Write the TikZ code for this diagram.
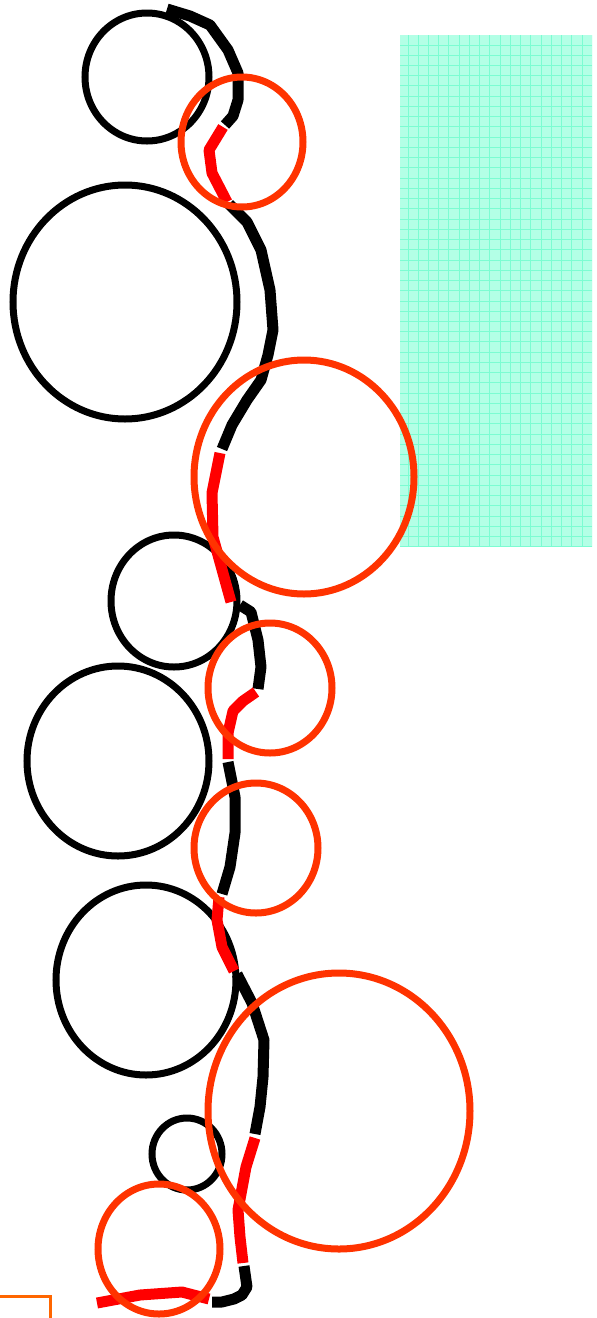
\documentclass[tikz,border=0pt]{standalone}
\usetikzlibrary{calc}
\definecolor{ring}{HTML}{FF3300}
\definecolor{redpath}{HTML}{FF0000}
\definecolor{bracket}{HTML}{FF6600}
\definecolor{mintfill}{HTML}{B3FFE6}
\definecolor{mintgrid}{HTML}{7CFCD2}
\tikzset{
  blackring/.style={draw=black,line width=7pt},
  redring/.style={draw=ring,line width=7pt},
  blackseg/.style={draw=black,line width=11pt,line join=round},
  redseg/.style={draw=redpath,line width=11pt,line join=round},
}
\begin{document}
\begin{tikzpicture}[x=1pt,y=-1pt]
\useasboundingbox (0,0) rectangle (597,1318);
% mint grid panel
\fill[mintfill] (400,35) rectangle (592,547);
\begin{scope}
\clip (400,35) rectangle (592,547);
\foreach \i in {0,...,19} {\draw[mintgrid,line width=1pt] ({400+8+10.24*\i},35) -- ++(0,512);}
\foreach \j in {0,...,50} {\draw[mintgrid,line width=1pt] (400,{35+10+10.24*\j}) -- ++(192,0);}
\end{scope}
% black circles
\draw[blackring] (147,77) ellipse [x radius=62pt, y radius=64pt];
\draw[blackring] (125,302) ellipse [x radius=112pt, y radius=117pt];
\draw[blackring] (174,601) ellipse [x radius=63pt, y radius=66pt];
\draw[blackring] (118,761) ellipse [x radius=91pt, y radius=95pt];
\draw[blackring] (146,980) ellipse [x radius=90pt, y radius=95pt];
\draw[blackring] (187,1154) ellipse [x radius=35pt, y radius=36pt];
% path segments
\draw[blackseg] (167,9) -- (190,16) -- (210,25) -- (228,50) -- (238,73) -- (238,100) -- (233,116) -- (225,125);
\draw[redseg] (223,127) -- (209,150) -- (212,173) -- (227,202);
\draw[blackseg] (229,204) -- (247,222) -- (261,250) -- (270,290) -- (273,330) -- (268,355) -- (261,380) -- (247,400) -- (232,425) -- (222,449);
\draw[redseg] (220,453) -- (212,493) -- (213,537) -- (231,602);
\draw[blackseg] (240,605) -- (251,612) -- (258,640) -- (261,667) -- (258,689);
\draw[redseg] (256,692) -- (243,701) -- (233,711) -- (228,733) -- (228,759);
\draw[blackseg] (228,762) -- (235,797) -- (235,833) -- (230,867) -- (222,894);
\draw[redseg] (219,897) -- (217,920) -- (222,947) -- (234,971);
\draw[blackseg] (237,974) -- (252,1003) -- (264,1040) -- (263,1077) -- (260,1107) -- (255,1134);
\draw[redseg] (255,1138) -- (246,1167) -- (238,1210) -- (240,1237) -- (243,1263);
\draw[blackseg] (244,1266) -- (247,1287) -- (242,1295) -- (234,1299) -- (222,1302) -- (212,1302);
\draw[redseg] (209,1299) -- (182,1292) -- (140,1295) -- (97,1303);
% orange circles
\draw[redring] (242,142) ellipse [x radius=61pt, y radius=65pt];
\draw[redring] (304,477) ellipse [x radius=110pt, y radius=117pt];
\draw[redring] (270,688) ellipse [x radius=62pt, y radius=65pt];
\draw[redring] (256,848) ellipse [x radius=62pt, y radius=65pt];
\draw[redring] (339,1111) ellipse [x radius=131pt, y radius=138pt];
\draw[redring] (159,1249) ellipse [x radius=61pt, y radius=65pt];
% orange bracket
\draw[bracket,line width=3pt] (0,1296) -- (50,1296) -- (50,1318);
\end{tikzpicture}
\end{document}
